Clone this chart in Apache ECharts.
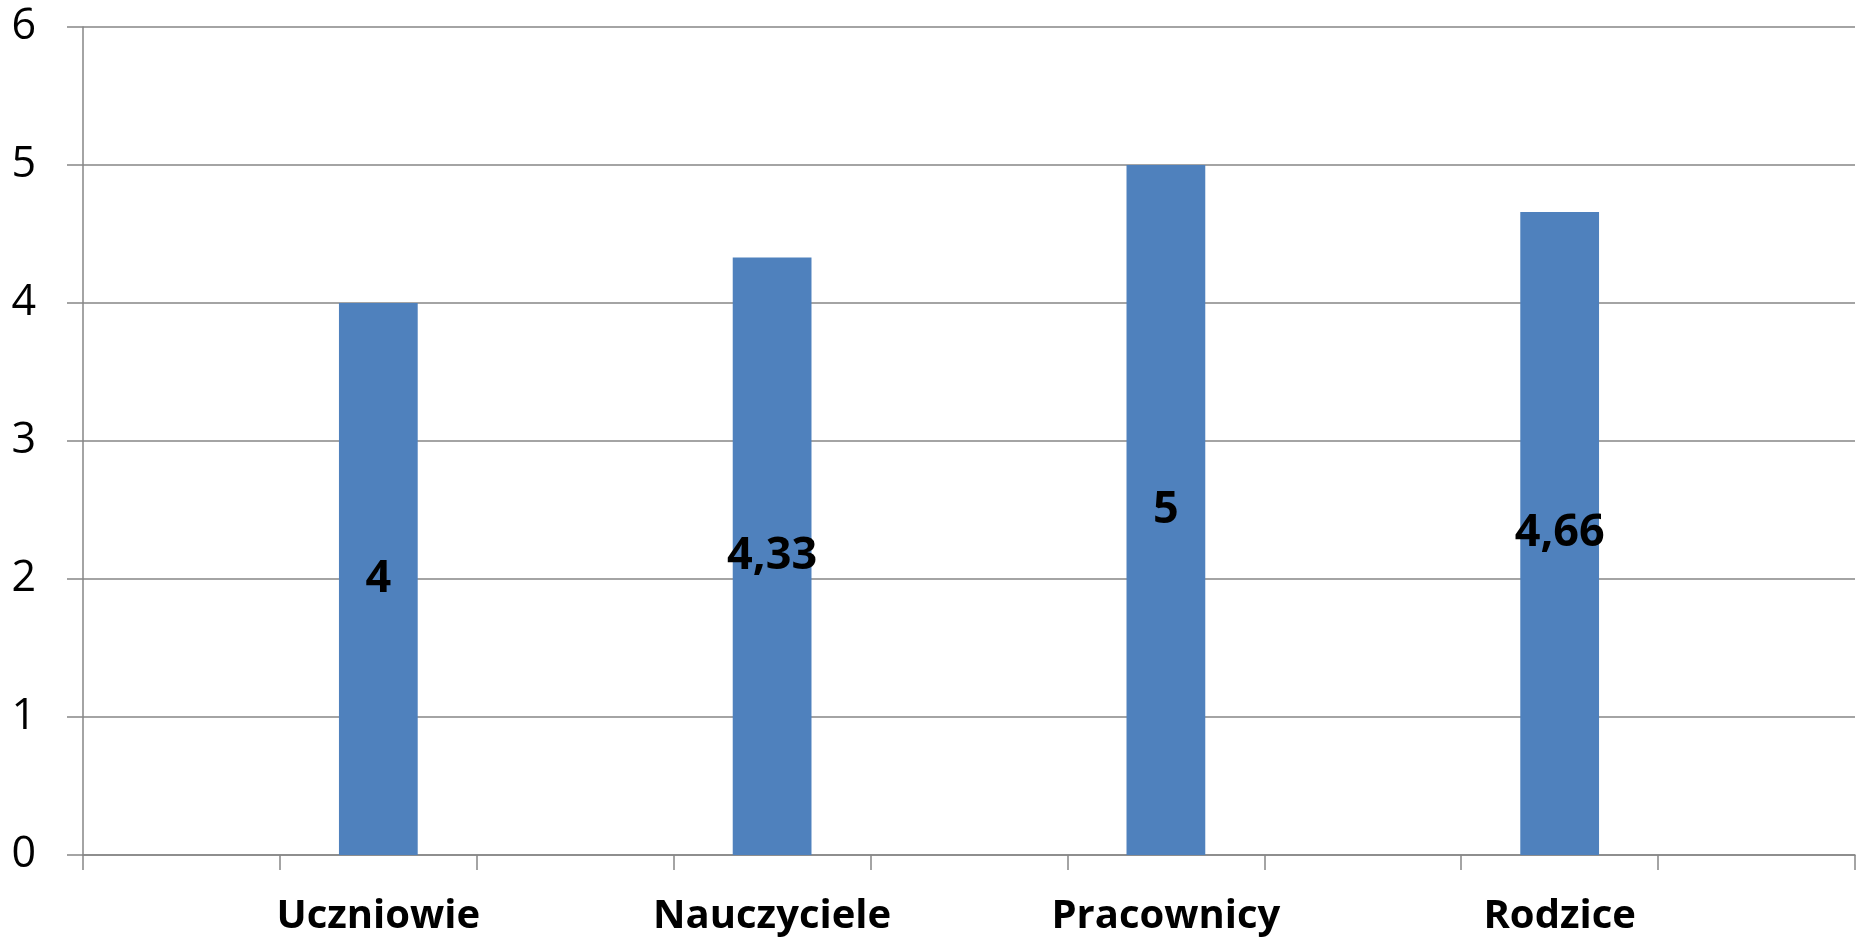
<!DOCTYPE html>
<html>
<head>
<meta charset="utf-8">
<script src="https://cdn.jsdelivr.net/npm/echarts@6/dist/echarts.min.js"></script>
<style>
html,body{margin:0;padding:0;background:#fff;}
#chart{width:1862px;height:941px;}
</style>
</head>
<body>
<div id="chart"></div>
<script>
const categories = ['', 'Uczniowie', '', 'Nauczyciele', '', 'Pracownicy', '', 'Rodzice', ''];
const values = ['-', 4, '-', 4.33, '-', 5, '-', 4.66, '-'];
const yTicks = { min: 0, max: 6, interval: 1 };

const chart = echarts.init(document.getElementById('chart'));
chart.setOption({
  animation: false,
  backgroundColor: '#ffffff',
  grid: { left: 83, right: 7, top: 27, bottom: 86, containLabel: false },
  xAxis: {
    type: 'category',
    data: categories,
    boundaryGap: true,
    axisLine: { show: true, lineStyle: { color: '#868686', width: 1.5 } },
    axisTick: { show: true, interval: 0, length: 15, lineStyle: { color: '#868686', width: 1.5 } },
    axisLabel: {
      interval: 0, margin: 42,
      fontFamily: 'Open Sans', fontWeight: 'bold', fontSize: 40, color: '#000'
    },
    splitLine: { show: false }
  },
  yAxis: {
    type: 'value',
    min: yTicks.min, max: yTicks.max, interval: yTicks.interval,
    axisLine: { show: true, lineStyle: { color: '#868686', width: 1.5 } },
    axisTick: { show: true, length: 16, lineStyle: { color: '#868686', width: 1.5 } },
    axisLabel: { margin: 47, fontFamily: 'Open Sans', fontSize: 43, color: '#000' },
    splitLine: { show: true, lineStyle: { color: '#868686', width: 1.5 } }
  },
  series: [{
    type: 'bar',
    data: values,
    barWidth: '40%',
    itemStyle: { color: '#4F81BD' },
    label: {
      show: true, position: 'inside',
      fontFamily: 'Open Sans', fontWeight: 'bold', fontSize: 45, color: '#000',
      formatter: p => String(p.value).replace('.', ',')
    }
  }]
});
</script>
</body>
</html>
